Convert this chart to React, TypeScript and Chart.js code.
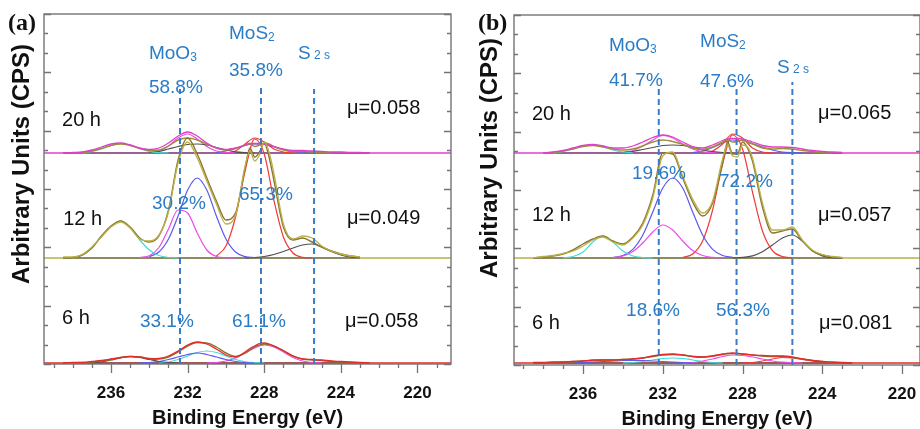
import React, { useEffect, useRef } from "react";
import { Chart, registerables } from "chart.js";

Chart.register(...registerables);

const _ = null;

// ---------- energy grids (eV) ----------
const componentEnergies = [238.5, 238, 237.5, 237, 236.5, 236, 235.5, 235, 234.5, 234, 233.5, 233, 232.5, 232, 231.5, 231, 230.5, 230, 229.5, 229, 228.5, 228, 227.5, 227, 226.5, 226, 225.5, 225, 224.5, 224, 223.5, 223, 222.5];
const envelopeEnergies = [238.5, 238, 237.5, 237, 236.5, 236, 235.5, 235, 234.5, 234, 233.5, 233, 232.5, 232, 231.5, 231, 230.5, 230, 229.5, 229, 228.75, 228.5, 228.25, 228, 227.75, 227.5, 227, 226.5, 226, 225.5, 225, 224.5, 224, 223.5, 223, 222.5];
const xTickLabels = [236, 232, 228, 224, 220];

// ---------- text values ----------
const timeLabels = ["6 h", "12 h", "20 h"];
const frictionA = ["μ=0.058", "μ=0.049", "μ=0.058"];
const frictionB = ["μ=0.081", "μ=0.057", "μ=0.065"];
const moo3PctA = ["33.1%", "30.2%", "58.8%"];
const mos2PctA = ["61.1%", "65.3%", "35.8%"];
const moo3PctB = ["18.6%", "19.6%", "41.7%"];
const mos2PctB = ["56.3%", "72.2%", "47.6%"];

// ---------- stacking offsets & reference lines ----------
const stackOffsetsA = [1, 106, 211];
const stackOffsetsB = [2, 107, 212];
const markerEnergiesA = [232.4, 228.17, 225.4];
const markerTopsA = [275, 276, 275];
const markerEnergiesB = [232.2, 228.3, 225.5];
const markerTopsB = [280, 280, 283];

// ---------- panel (a), 20 h ----------
const a20Raw = [0, 0.5, 1, 3, 6, 9, 10, 8, 5, 3.5, 5, 10, 17, 21, 17, 10, 5, 3.5, 5, 8, 9.5, 9.5, 9.5, 9, 8, 6.5, 4, 2.5, 2.5, 2, 1.5, 1, 1, 0.5, 0.5, 0];
const a20Fit = [_, 0, 0.5, 2, 4.5, 7.5, 9, 7.5, 4.5, 2.5, 3, 7, 13, 15, 13, 9, 5, 3, 4.5, 8, 9, 6.5, 8, 10, 9, 6.5, 3, 1.5, 1.5, 1, 0.5, 0, _, _, _, _];
const a20Cyan = [_, _, 0, 1.5, 4, 7.5, 9.5, 8, 4.5, 1.5, 0.3, 0, _, _, _, _, _, _, _, _, _, _, _, _, _, _, _, _, _, _, _, _, _];
const a20Mag = [_, _, _, _, _, _, _, _, _, 0, 2, 7, 15, 19, 14, 6.5, 2, 0.5, 0, _, _, _, _, _, _, _, _, _, _, _, _, _, _];
const a20Black = [_, _, _, _, _, _, _, _, _, 0.5, 1.5, 4, 6.5, 8.5, 9, 8, 5.5, 3, 1.2, 0.4, 0, _, _, _, _, _, _, _, _, _, _, _, _];
const a20Red = [_, _, _, _, _, _, _, _, _, _, _, _, _, _, _, _, _, 0, 2, 9, 15, 11, 4, 1, 0, _, _, _, _, _, _, _, _];
const a20Blue = [_, _, _, _, _, _, _, _, _, _, _, _, _, _, _, _, 0.5, 2, 4.5, 7.5, 9, 8.5, 6, 3.5, 1.5, 0.5, 0, _, _, _, _, _, _];

// ---------- panel (a), 12 h ----------
const a12Raw = [1, 1, 3.5, 11, 21, 31, 36, 30, 19, 17, 23, 46, 95, 116, 100, 77, 54, 34, 43, 92, 107, 97, 103, 116, 106, 85, 34, 19, 22, 20, 12, 7, 4, 2, 1, _];
const a12Fit = [0, 0.5, 3, 10, 22, 32, 37, 31, 20, 16, 22, 48, 98, 120, 104, 80, 57, 38, 45, 90, 110, 101, 106, 115, 101, 78, 31, 18, 20, 16, 11, 7, 4, 2, 1, _];
const a12Cyan = [_, 0, 3, 10, 22, 32, 37, 30, 18, 8, 2.5, 0.5, 0, _, _, _, _, _, _, _, _, _, _, _, _, _, _, _, _, _, _, _, _];
const a12Mag = [_, _, _, _, _, _, _, _, 0.5, 2.2, 10.5, 29, 48, 45, 25, 8, 1.5, 0.2, 0, _, _, _, _, _, _, _, _, _, _, _, _, _, _];
const a12Blue = [_, _, _, _, _, _, _, _, _, 1.4, 6, 19, 42, 68, 80, 68, 42, 19, 6, 1.4, 0.3, _, _, _, _, _, _, _, _, _, _, _, _];
const a12Red = [_, _, _, _, _, _, _, _, _, _, _, _, _, _, _, _, 2, 12, 41, 87, 119, 104, 58, 21, 5, 0.7, 0, _, _, _, _, _, _];
const a12Black = [_, _, _, _, _, _, _, _, _, _, _, _, _, _, _, _, _, _, _, 0, 0.5, 1.5, 3.5, 6.5, 10, 13, 14, 11, 6.5, 3, 1, 0.3, _];

// ---------- panel (a), 6 h ----------
const a6Raw = [0, 0.5, 0.5, 1.5, 2.5, 4, 5.5, 6.5, 6, 4, 4.5, 7, 12, 18, 21, 19, 14, 8, 6, 11, 14.5, 17, 19.5, 20, 19, 17, 12.5, 7, 4, 3.5, 3, 2, 1.5, 1, 0.5, 0];
const a6Fit = [_, 0, 0.5, 1, 2, 3.5, 5.5, 6.5, 6, 4.5, 4, 6, 11, 17, 20.5, 20, 16, 10, 6.5, 10, 13, 16, 18, 19, 18.5, 17, 12, 7, 4, 3, 2.5, 1.5, 1, 0.5, 0, _];
const a6Black = [_, _, _, 0, 1, 3, 5, 6.5, 5.5, 3.5, 1.5, 0.5, 0, _, _, _, _, _, _, _, _, _, _, _, _, _, _, _, _, _, _, _, _];
const a6Blue = [_, _, _, _, _, _, _, _, 0, 0.5, 1.5, 3.5, 6, 8.5, 10, 8.5, 6, 3.5, 1.5, 0.5, 0, _, _, _, _, _, _, _, _, _, _, _, _];
const a6Cyan = [_, _, _, _, _, _, _, _, _, _, 0, 1, 3.5, 7, 10.5, 12, 10.5, 7, 3.5, 1.2, 0.3, 0, _, _, _, _, _, _, _, _, _, _, _];
const a6Mag = [_, _, _, _, _, _, _, _, _, _, _, _, _, _, _, 0, 0.5, 2, 5, 10, 15, 18, 16, 11, 5.5, 2, 0.5, 0, _, _, _, _, _];

// ---------- panel (b), 20 h ----------
const b20Raw = [_, 0, 1, 2.5, 5, 7.5, 8.5, 7, 5, 5, 7, 11, 15.5, 18, 16, 11, 6.5, 5, 8, 12.5, 14, 14.5, 14.5, 14, 12.5, 11, 7.5, 6, 6, 5.5, 4, 2.5, 1.5, 1, 0.5, _];
const b20Fit = [_, 0, 0.5, 2, 4, 6.5, 7.5, 6, 4, 3, 4, 7, 11, 13, 11.5, 8.5, 5, 3.5, 6, 11, 13, 11, 11.5, 13, 11, 9, 5, 4, 4.5, 4, 2.5, 1.5, 0.5, 0, _, _];
const b20Cyan = [_, _, 0, 1.5, 4, 7, 8, 6, 3, 1, 0, _, _, _, _, _, _, _, _, _, _, _, _, _, _, _, _, _, _, _, _, _, _];
const b20Mag = [_, _, _, _, _, _, _, _, _, 0.5, 2.5, 7, 13, 17.5, 15, 9, 4, 1.2, 0.3, 0, _, _, _, _, _, _, _, _, _, _, _, _, _];
const b20Black = [_, _, _, _, _, _, _, _, _, 0.5, 1.5, 3.5, 5.5, 7.5, 8, 7.5, 5.5, 3, 1.5, 0.5, 0, _, _, _, _, _, _, _, _, _, _, _, _];
const b20Red = [_, _, _, _, _, _, _, _, _, _, _, _, _, _, _, _, _, 0, 2, 9, 19, 15, 5, 1, 0, _, _, _, _, _, _, _, _];
const b20Blue = [_, _, _, _, _, _, _, _, _, _, _, _, _, _, _, _, 0.5, 2, 5.5, 10, 13, 12.5, 9.5, 6, 3, 1, 0.3, 0, _, _, _, _, _];

// ---------- panel (b), 12 h ----------
const b12Raw = [0, 1.5, 2.5, 4.5, 7, 12, 18, 21, 16, 13, 20, 33, 60, 102, 106, 82, 59, 45, 57, 99, 113, 102, 101, 113, 111, 100, 55, 28, 28, 31, 18, 8, 3.5, 1.5, 0.5, _];
const b12Fit = [0, 1, 2, 4, 8, 14, 19, 22, 17, 14, 21, 35, 63, 105, 104, 80, 56, 42, 55, 95, 116, 104, 104, 116, 110, 97, 51, 25, 27, 29, 17, 7, 3, 1, 0.3, _];
const b12Cyan = [_, _, _, 0, 1.5, 6, 16, 22, 16, 7, 2, 0.4, 0, _, _, _, _, _, _, _, _, _, _, _, _, _, _, _, _, _, _, _, _];
const b12Mag = [_, _, _, _, _, _, _, _, 0.5, 2, 6.5, 15, 26, 33, 28, 17, 7.5, 2.5, 0.6, 0, _, _, _, _, _, _, _, _, _, _, _, _, _];
const b12Blue = [_, _, _, _, _, _, _, _, 0.5, 2.5, 8.7, 23, 46, 70, 80, 70, 46, 23, 8.7, 2.5, 0.6, _, _, _, _, _, _, _, _, _, _, _, _];
const b12Red = [_, _, _, _, _, _, _, _, _, _, _, _, _, _, _, 0.5, 4, 17, 48, 94, 123, 109, 66, 27, 7.4, 1.4, 0.2, _, _, _, _, _, _];
const b12Black = [_, _, _, _, _, _, _, _, _, _, _, _, _, _, _, _, _, _, _, _, 0.1, 0.6, 2.2, 6.3, 13, 20, 23, 17, 7.5, 2, 0.3, 0, _];

// ---------- panel (b), 6 h ----------
const b6Raw = [0.5, 0.5, 1, 1, 1.5, 2, 3, 3, 3, 3.5, 4, 5, 7, 8.5, 9, 8, 6.5, 6, 7, 9, 9.5, 10, 9.5, 9, 8.5, 8, 7.5, 7, 7, 6, 4, 2.5, 1.5, 1, 0.5, 0];
const b6Fit = [_, 0, 0.5, 1, 1.5, 2, 2.5, 3, 3, 3.5, 4, 5, 6.5, 8, 8.5, 8, 6.5, 6, 7, 8.5, 9.5, 9.5, 9.5, 9, 8.5, 8, 7, 6.5, 6.5, 5.5, 4, 2.5, 1.5, 0.5, 0, _];
const b6Cyan = [_, _, _, _, _, _, _, _, _, 0, 0.5, 1.5, 3, 4.5, 5, 4.5, 3, 1.5, 0.5, 0, _, _, _, _, _, _, _, _, _, _, _, _, _];
const b6Blue = [_, _, _, _, 0, 0.5, 1, 1.5, 2, 2.5, 2.5, 2.5, 2, 1.5, 1, 0.5, 0, _, _, _, _, _, _, _, _, _, _, _, _, _, _, _, _];
const b6Mag = [_, _, _, _, _, _, _, _, _, _, _, _, _, _, _, 0, 0.5, 2, 4, 6.5, 8, 7.5, 6, 4, 2, 0.8, 0.2, 0, _, _, _, _, _];
const b6Red = [_, _, _, _, _, _, _, _, _, _, _, _, _, _, _, _, _, _, _, _, _, 0, 0.5, 2, 4, 5.5, 5, 3.5, 2, 0.8, 0.2, 0, _];

// ---------- styles ----------
const FONT = "'Liberation Sans', Arial, sans-serif";
const SERIF = "'Liberation Serif', 'Times New Roman', serif";
const AXIS = "#747474";
const BLUE_TXT = "#2a7cc6";
const DASH = "#3b7bc6";
const CYAN = "#45dada";
const MAG = "#ea4cea";
const BLUEC = "#5a5aee";
const REDC = "#f03a3a";
const DARK = "#505050";
const BROWN = "#8c7430";
const OLIVE = "#9c8f34";
const KHAKI = "#b9b246";
const PINK = "#e040c8";
const RAWRED = "#e32b28";

type Part = { t: string; s: number; dy?: number };
type Anno = { parts: Part[]; e: number; u: number; color: string };

const black = (t: string, e: number, u: number): Anno => ({ parts: [{ t, s: 20 }], e, u, color: "#111" });
const blue = (t: string, e: number, u: number): Anno => ({ parts: [{ t, s: 19 }], e, u, color: BLUE_TXT });
const blueSub = (t: string, sub: string, e: number, u: number, dy: number): Anno => ({
  parts: [{ t, s: 19 }, { t: sub, s: 12, dy }],
  e,
  u,
  color: BLUE_TXT,
});

const panelA = {
  label: "(a)",
  labelX: 8,
  labelY: 30,
  yTitleX: 22,
  yTitleY: 164,
  canvasW: 460,
  xMin: 218.25,
  xMax: 239.5,
  yMax: 350,
  yAxisWidth: 44,
  xAxisHeight: 65,
  padding: { left: 0, right: 9, top: 14, bottom: 0 },
  markerEnergies: markerEnergiesA,
  markerTops: markerTopsA,
  spectra: [
    { offset: stackOffsetsA[0], floor: RAWRED, raw: a6Raw, rawColor: RAWRED, fit: a6Fit, fitColor: BROWN, comps: [[a6Black, DARK], [a6Blue, BLUEC], [a6Cyan, CYAN], [a6Mag, MAG]] },
    { offset: stackOffsetsA[1], floor: KHAKI, raw: a12Raw, rawColor: KHAKI, fit: a12Fit, fitColor: BROWN, comps: [[a12Cyan, CYAN], [a12Mag, MAG], [a12Blue, BLUEC], [a12Red, REDC], [a12Black, DARK]] },
    { offset: stackOffsetsA[2], floor: PINK, raw: a20Raw, rawColor: PINK, fit: a20Fit, fitColor: OLIVE, comps: [[a20Cyan, CYAN], [a20Black, DARK], [a20Mag, MAG], [a20Red, REDC], [a20Blue, BLUEC]] },
  ],
  annos: [
    blueSub("MoO", "3", 234.02, 312, 2),
    blue(moo3PctA[2], 234.02, 277.5),
    blueSub("MoS", "2", 229.84, 332, 2),
    blue(mos2PctA[2], 229.84, 295),
    blueSub("S", " 2 s", 226.24, 311.5, 0),
    black(timeLabels[2], 238.56, 245.5),
    black(frictionA[2], 223.68, 257),
    black(timeLabels[1], 238.5, 146.5),
    black(frictionA[1], 223.68, 147),
    blue(moo3PctA[1], 233.86, 161.5),
    blue(mos2PctA[1], 229.32, 171),
    black(timeLabels[0], 238.56, 47.5),
    blue(moo3PctA[0], 234.49, 44),
    blue(mos2PctA[0], 229.68, 44),
    black(frictionA[0], 223.78, 44),
  ] as Anno[],
};

const panelB = {
  label: "(b)",
  labelX: 18,
  labelY: 30,
  yTitleX: 30,
  yTitleY: 158,
  canvasW: 480,
  xMin: 219.1,
  xMax: 239.46,
  yMax: 350,
  yAxisWidth: 54,
  xAxisHeight: 64,
  padding: { left: 0, right: 20, top: 15, bottom: 0 },
  markerEnergies: markerEnergiesB,
  markerTops: markerTopsB,
  spectra: [
    { offset: stackOffsetsB[0], floor: RAWRED, raw: b6Raw, rawColor: RAWRED, fit: b6Fit, fitColor: BROWN, comps: [[b6Blue, BLUEC], [b6Cyan, CYAN], [b6Mag, MAG], [b6Red, REDC]] },
    { offset: stackOffsetsB[1], floor: KHAKI, raw: b12Raw, rawColor: KHAKI, fit: b12Fit, fitColor: BROWN, comps: [[b12Cyan, CYAN], [b12Mag, MAG], [b12Blue, BLUEC], [b12Red, REDC], [b12Black, DARK]] },
    { offset: stackOffsetsB[2], floor: PINK, raw: b20Raw, rawColor: PINK, fit: b20Fit, fitColor: OLIVE, comps: [[b20Cyan, CYAN], [b20Black, DARK], [b20Mag, MAG], [b20Red, REDC], [b20Blue, BLUEC]] },
  ],
  annos: [
    blueSub("MoO", "3", 234.7, 320.5, 2),
    blue(moo3PctB[2], 234.7, 285.5),
    blueSub("MoS", "2", 230.13, 324.5, 2),
    blue(mos2PctB[2], 230.13, 285),
    blueSub("S", " 2 s", 226.27, 298.5, 0),
    black(timeLabels[2], 238.56, 252.5),
    black(frictionB[2], 224.21, 253),
    black(timeLabels[1], 238.56, 151.5),
    black(frictionB[1], 224.21, 151.5),
    blue(moo3PctB[1], 233.54, 193),
    blue(mos2PctB[1], 229.18, 184.5),
    black(timeLabels[0], 238.56, 43.5),
    blue(moo3PctB[0], 233.84, 56),
    blue(mos2PctB[0], 229.33, 56),
    black(frictionB[0], 224.16, 43.5),
  ] as Anno[],
};

function series(energies: number[], values: (number | null)[], offset: number, color: string, width: number, order: number) {
  const pts: { x: number; y: number }[] = [];
  energies.forEach((e, i) => {
    const v = values[i];
    if (v !== null && v !== undefined) pts.push({ x: e, y: v + offset });
  });
  return {
    data: pts,
    borderColor: color,
    backgroundColor: color,
    borderWidth: width,
    pointRadius: 0,
    fill: false,
    cubicInterpolationMode: "monotone",
    order,
  };
}

function buildDatasets(p: typeof panelA) {
  const ds: any[] = [];
  p.markerEnergies.forEach((e, i) => {
    ds.push({
      data: [{ x: e, y: 0 }, { x: e, y: p.markerTops[i] }],
      borderColor: DASH,
      borderWidth: 2,
      borderDash: [6, 4],
      pointRadius: 0,
      order: 0,
    });
  });
  p.spectra.forEach((sp: any) => {
    ds.push({
      data: [{ x: p.xMax, y: sp.offset }, { x: p.xMin, y: sp.offset }],
      borderColor: sp.floor,
      borderWidth: 1.3,
      pointRadius: 0,
      order: 6,
    });
    const idx = sp.raw.map((v: any, i: number) => (v === null ? -1 : i)).filter((i: number) => i >= 0);
    ds.push({
      data: [{ x: envelopeEnergies[idx[0]], y: sp.offset }, { x: envelopeEnergies[idx[idx.length - 1]], y: sp.offset }],
      borderColor: DARK,
      borderWidth: 1.2,
      pointRadius: 0,
      order: 5,
    });
    sp.comps.forEach(([vals, color]: any) => ds.push(series(componentEnergies, vals, sp.offset, color, 1.2, 3)));
    ds.push(series(envelopeEnergies, sp.fit, sp.offset, sp.fitColor, 1.4, 2));
    ds.push(series(envelopeEnergies, sp.raw, sp.offset, sp.rawColor, 1.3, 1));
  });
  return ds;
}

const decorPlugin = {
  id: "xpsDecor",
  afterDatasetsDraw(chart: any, _args: any, opts: any) {
    const p = opts.panel;
    const { ctx, chartArea: ca } = chart;
    const xs = chart.scales.x;
    const ys = chart.scales.y;
    ctx.save();
    // frame
    ctx.strokeStyle = AXIS;
    ctx.lineWidth = 1.4;
    ctx.strokeRect(ca.left, ca.top, ca.right - ca.left, ca.bottom - ca.top);
    // x ticks (every 1 eV, long at labelled ones)
    ctx.lineWidth = 1.3;
    ctx.beginPath();
    for (let e = Math.ceil(xs.min); e <= Math.floor(xs.max); e++) {
      const px = Math.round(xs.getPixelForValue(e)) + 0.5;
      const len = e % 4 === 0 ? 9 : 4;
      ctx.moveTo(px, ca.bottom);
      ctx.lineTo(px, ca.bottom + len);
    }
    // y ticks inward on both sides
    const n = 18;
    for (let k = 0; k <= n; k++) {
      const py = Math.round(ys.getPixelForValue((p.yMax * k) / n)) + 0.5;
      const len = k % 3 === 0 ? 7 : 4;
      ctx.moveTo(ca.left, py);
      ctx.lineTo(ca.left + len, py);
      ctx.moveTo(ca.right, py);
      ctx.lineTo(ca.right - len, py);
    }
    ctx.stroke();

    // x tick labels
    ctx.fillStyle = "#111";
    ctx.font = `bold 17px ${FONT}`;
    ctx.textAlign = "center";
    ctx.textBaseline = "alphabetic";
    xTickLabels.forEach((v) => {
      if (v >= xs.min && v <= xs.max) ctx.fillText(String(v), xs.getPixelForValue(v), ca.bottom + 34);
    });

    // axis titles
    ctx.font = `bold 20px ${FONT}`;
    ctx.fillText("Binding Energy (eV)", (ca.left + ca.right) / 2, ca.bottom + 60);
    ctx.save();
    ctx.translate(p.yTitleX, p.yTitleY);
    ctx.rotate(-Math.PI / 2);
    ctx.textBaseline = "middle";
    ctx.font = `bold 24px ${FONT}`;
    ctx.fillText("Arbitrary Units (CPS)", 0, 0);
    ctx.restore();

    // panel label
    ctx.textAlign = "left";
    ctx.font = `bold 24px ${SERIF}`;
    ctx.fillText(p.label, p.labelX, p.labelY);

    // annotations
    p.annos.forEach((a: Anno) => {
      let x = xs.getPixelForValue(a.e);
      const base = ys.getPixelForValue(a.u) + 0.36 * a.parts[0].s;
      ctx.fillStyle = a.color;
      ctx.textAlign = "left";
      ctx.textBaseline = "alphabetic";
      a.parts.forEach((part) => {
        ctx.font = `${part.s}px ${FONT}`;
        ctx.fillText(part.t, x, base + (part.dy || 0));
        x += ctx.measureText(part.t).width;
      });
    });
    ctx.restore();
  },
};

function Panel({ panel }: { panel: typeof panelA }) {
  const ref = useRef<HTMLCanvasElement | null>(null);
  useEffect(() => {
    if (!ref.current) return;
    const chart = new Chart(ref.current, {
      type: "line",
      data: { datasets: buildDatasets(panel) },
      options: {
        responsive: false,
        devicePixelRatio: 1,
        animation: false,
        events: [],
        layout: { padding: panel.padding },
        plugins: {
          legend: { display: false },
          tooltip: { enabled: false },
          xpsDecor: { panel },
        } as any,
        scales: {
          x: {
            type: "linear",
            reverse: true,
            min: panel.xMin,
            max: panel.xMax,
            afterFit: (s: any) => {
              s.height = panel.xAxisHeight;
            },
            grid: { display: false },
            border: { display: false },
            ticks: { display: false, stepSize: 1 },
          },
          y: {
            type: "linear",
            min: 0,
            max: panel.yMax,
            afterFit: (s: any) => {
              s.width = panel.yAxisWidth;
            },
            grid: { display: false },
            border: { display: false },
            ticks: { display: false },
          },
        },
      } as any,
      plugins: [decorPlugin],
    });
    return () => chart.destroy();
  }, []);
  return <canvas ref={ref} width={panel.canvasW} height={429} style={{ display: "block", width: panel.canvasW, height: 429 }} />;
}

export default function App() {
  return (
    <div style={{ position: "fixed", left: 0, top: 0, width: 920, height: 429, overflow: "hidden", background: "#fff" }}>
      <div style={{ position: "absolute", left: 0, top: 0 }}>
        <Panel panel={panelA} />
      </div>
      <div style={{ position: "absolute", left: 460, top: 0 }}>
        <Panel panel={panelB as any} />
      </div>
    </div>
  );
}
